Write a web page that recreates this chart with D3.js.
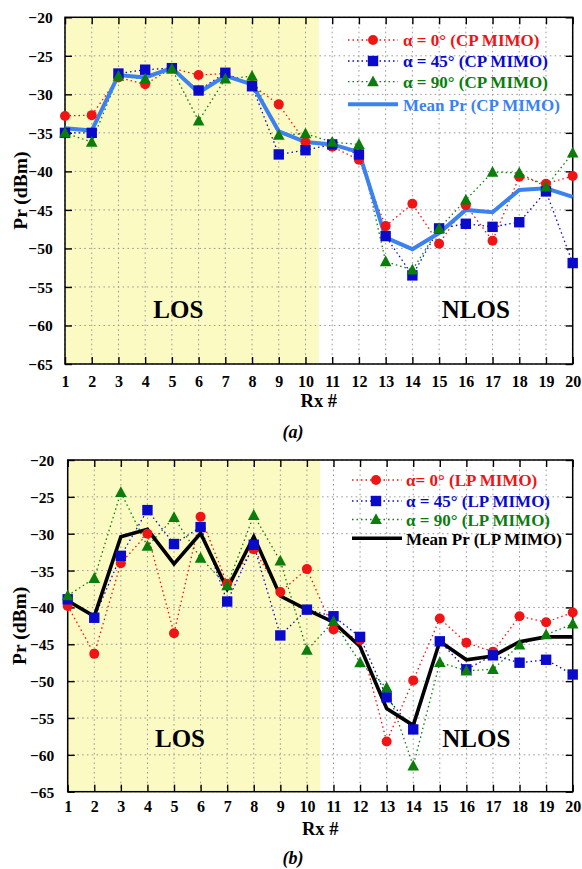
<!DOCTYPE html>
<html><head><meta charset="utf-8">
<script src="https://cdn.jsdelivr.net/npm/d3@7"></script>
<style>
body{margin:0;background:#fff}
svg{display:block}
text{font-family:"Liberation Serif","Times New Roman",serif;font-weight:bold}
</style>
</head><body>
<svg id="c" width="582" height="869"></svg>
<script>
// ---------- data ----------
const rxLabels = [1,2,3,4,5,6,7,8,9,10,11,12,13,14,15,16,17,18,19,20];
const yTicks = [-20,-25,-30,-35,-40,-45,-50,-55,-60,-65];

const cpAlpha0  = [-32.8,-32.7,-27.8,-28.7,-26.6,-27.5,-27.3,-28.8,-31.3,-36.2,-36.8,-38.5,-47.1,-44.2,-49.4,-44.4,-49.0,-40.7,-41.6,-40.6];
const cpAlpha45 = [-35.0,-35.0,-27.3,-26.8,-26.6,-29.5,-27.2,-28.95,-37.8,-37.25,-36.5,-37.8,-48.4,-53.5,-47.4,-46.8,-47.2,-46.6,-42.6,-51.9];
const cpAlpha90 = [-35.0,-36.2,-27.65,-28.0,-26.7,-33.45,-28.0,-27.65,-35.3,-35.1,-36.2,-36.5,-51.7,-52.8,-47.4,-43.7,-40.1,-40.2,-42.0,-37.6];
const cpMean    = [-34.4,-34.7,-27.5,-27.8,-26.6,-29.8,-27.6,-28.7,-34.8,-36.2,-36.5,-37.5,-48.6,-50.1,-48.0,-45.0,-45.3,-42.4,-42.2,-43.3];

const lpAlpha0  = [-39.8,-46.3,-34.0,-30.0,-43.5,-27.7,-36.8,-32.1,-37.9,-34.8,-43.0,-44.4,-58.2,-49.9,-41.5,-44.8,-46.0,-41.2,-42.0,-40.7];
const lpAlpha45 = [-38.9,-41.4,-33.0,-26.8,-31.4,-29.1,-39.2,-31.5,-43.8,-40.3,-41.2,-44.0,-52.2,-56.55,-44.6,-48.4,-46.5,-47.5,-47.1,-49.1];
const lpAlpha90 = [-38.4,-36.05,-24.4,-31.7,-27.8,-33.3,-37.05,-27.5,-33.7,-45.8,-41.9,-47.5,-50.9,-61.5,-47.45,-48.6,-48.4,-45.1,-43.7,-42.25];
const lpMean    = [-39.1,-41.2,-30.4,-29.4,-34.1,-29.95,-37.5,-30.4,-38.45,-40.3,-42.0,-45.3,-53.7,-56.0,-44.6,-47.1,-46.6,-44.65,-44.0,-44.0];

const cpLegend = ["α = 0° (CP MIMO)","α = 45° (CP MIMO)","α = 90° (CP MIMO)","Mean Pr (CP MIMO)"];
const lpLegend = ["α= 0° (LP MIMO)","α = 45° (LP MIMO)","α = 90° (LP MIMO)","Mean Pr (LP MIMO)"];
const losBoundary = 10.5;
const regionLabels = ["LOS","NLOS"];
const captions = ["(a)","(b)"];
const axisTitles = {x:"Rx #", y:"Pr (dBm)"};

// ---------- style ----------
const seriesColors = ["#f01414","#0a0acc","#0b7d0b"];
const shapes = ["circle","square","triangle"];

const svg = d3.select("#c");

const panels = [
  {left:65, top:17.3, right:572.7, bottom:364,
   series:[cpAlpha0,cpAlpha45,cpAlpha90], mean:cpMean, meanColor:"#3b82f0", meanWidth:4,
   legend:cpLegend, leg:{x0:348,x1:398,xm:373,tx:403,lineY:[40,61,81.7,104.3],textY:[45.5,67,88,110.5]},
   xTickBase:22.7, rxBase:406.7, yLabRight:52.7, yLabX:26.5, caption:captions[0], capX:293, capY:437.5,
   los:[178.3,318], nlos:[475.8,318]},
  {left:67.7, top:460, right:572.7, bottom:791.7,
   series:[lpAlpha0,lpAlpha45,lpAlpha90], mean:lpMean, meanColor:"#000000", meanWidth:3.6,
   legend:lpLegend, leg:{x0:352,x1:402,xm:376,tx:406,lineY:[480,501,519.5,538.3],textY:[485.5,507,526,544.5]},
   xTickBase:20, rxBase:835, yLabRight:54.3, yLabX:26, caption:captions[1], capX:293, capY:864,
   los:[180,746.5], nlos:[476.3,747]}
];

function marker(g, shape, cx, cy, color){
  if(shape==="circle") g.append("circle").attr("cx",cx).attr("cy",cy).attr("r",5).attr("fill",color);
  else if(shape==="square") g.append("rect").attr("x",cx-5.2).attr("y",cy-5.2).attr("width",10.4).attr("height",10.4).attr("fill",color);
  else g.append("path").attr("d",`M${cx},${cy-6.2}L${cx+5.8},${cy+4.6}L${cx-5.8},${cy+4.6}Z`).attr("fill",color);
}

panels.forEach(p=>{
  const x = d3.scaleLinear().domain([1,20]).range([p.left,p.right]);
  const y = d3.scaleLinear().domain([-65,-20]).range([p.bottom,p.top]);
  const g = svg.append("g");

  // LOS background
  g.append("rect").attr("x",x(1)).attr("y",y(-20)).attr("width",x(losBoundary)-x(1)).attr("height",y(-65)-y(-20))
    .attr("fill","#fcfac3");

  // grid
  g.append("g").selectAll("line").data(rxLabels).join("line")
    .attr("x1",d=>x(d)).attr("x2",d=>x(d)).attr("y1",y(-20)).attr("y2",y(-65))
    .attr("stroke","#9a9a9a").attr("stroke-width",1).attr("stroke-dasharray","1.6,3.2");
  g.append("g").selectAll("line").data(yTicks).join("line")
    .attr("x1",x(1)).attr("x2",x(20)).attr("y1",d=>y(d)).attr("y2",d=>y(d))
    .attr("stroke","#9a9a9a").attr("stroke-width",1).attr("stroke-dasharray","1.6,3.2");

  // axes (inward ticks)
  const ax = (gen, tr) => {
    const a = g.append("g").attr("transform",tr).call(gen);
    a.select(".domain").remove();
    a.selectAll(".tick line").attr("stroke","#000").attr("stroke-width",1.4);
    return a;
  };
  const bx = ax(d3.axisBottom(x).tickValues(rxLabels).tickFormat(d3.format("d")).tickSize(-7).tickSizeOuter(0), `translate(0,${p.bottom})`);
  bx.selectAll("text").attr("y",p.xTickBase).attr("dy",null).attr("font-size",16).attr("fill","#000")
    .attr("font-family","Liberation Serif").attr("font-weight","bold");
  ax(d3.axisTop(x).tickValues(rxLabels).tickFormat("").tickSize(-7).tickSizeOuter(0), `translate(0,${p.top})`);
  const ly = ax(d3.axisLeft(y).tickValues(yTicks).tickFormat(d3.format("d")).tickSize(-7).tickSizeOuter(0), `translate(${p.left},0)`);
  ly.selectAll("text").attr("x",p.yLabRight-p.left).attr("dy","0.35em").attr("font-size",15.5).attr("fill","#000")
    .attr("font-family","Liberation Serif").attr("font-weight","bold").attr("text-anchor","end");
  ax(d3.axisRight(y).tickValues(yTicks).tickFormat("").tickSize(-7).tickSizeOuter(0), `translate(${p.right},0)`);

  // frame
  g.append("rect").attr("x",p.left).attr("y",p.top).attr("width",p.right-p.left).attr("height",p.bottom-p.top)
    .attr("fill","none").attr("stroke","#000").attr("stroke-width",1.5);

  // dotted series lines
  const line = d3.line().x((d,i)=>x(rxLabels[i])).y(d=>y(d));
  p.series.forEach((s,k)=>{
    g.append("path").attr("d",line(s)).attr("fill","none").attr("stroke",seriesColors[k])
      .attr("stroke-width",1.3).attr("stroke-dasharray","1.5,3");
  });
  // mean line
  g.append("path").attr("d",line(p.mean)).attr("fill","none").attr("stroke",p.meanColor)
    .attr("stroke-width",p.meanWidth).attr("stroke-linejoin","miter");
  // markers
  p.series.forEach((s,k)=>{
    const mg = g.append("g");
    s.forEach((v,i)=>marker(mg, shapes[k], x(rxLabels[i]), y(v), seriesColors[k]));
  });

  // legend
  const L = p.leg;
  p.legend.forEach((lab,k)=>{
    const col = k<3 ? seriesColors[k] : p.meanColor;
    if(k<3){
      g.append("line").attr("x1",L.x0).attr("x2",L.x1).attr("y1",L.lineY[k]).attr("y2",L.lineY[k])
        .attr("stroke",col).attr("stroke-width",1.3).attr("stroke-dasharray","1.5,3");
      marker(g, shapes[k], L.xm, L.lineY[k], col);
    } else {
      g.append("line").attr("x1",L.x0).attr("x2",L.x1).attr("y1",L.lineY[k]).attr("y2",L.lineY[k])
        .attr("stroke",col).attr("stroke-width",p.meanWidth);
    }
    g.append("text").attr("x",L.tx).attr("y",L.textY[k]).attr("font-size",17).attr("fill",col).text(lab);
  });

  // region labels
  g.append("text").attr("x",p.los[0]).attr("y",p.los[1]).attr("text-anchor","middle").attr("font-size",25).attr("fill","#000").text(regionLabels[0]);
  g.append("text").attr("x",p.nlos[0]).attr("y",p.nlos[1]).attr("text-anchor","middle").attr("font-size",25).attr("fill","#000").text(regionLabels[1]);

  // axis titles
  g.append("text").attr("x",(p.left+p.right)/2).attr("y",p.rxBase).attr("text-anchor","middle").attr("font-size",18.5).attr("fill","#000").text(axisTitles.x);
  g.append("text").attr("transform",`translate(${p.yLabX},${(p.top+p.bottom)/2}) rotate(-90)`)
    .attr("text-anchor","middle").attr("font-size",19.5).attr("fill","#000").text(axisTitles.y);

  // caption
  g.append("text").attr("x",p.capX).attr("y",p.capY).attr("text-anchor","middle").attr("font-size",18)
    .attr("font-style","italic").attr("font-weight","normal").attr("fill","#000").text(p.caption);
});
</script>
</body></html>
